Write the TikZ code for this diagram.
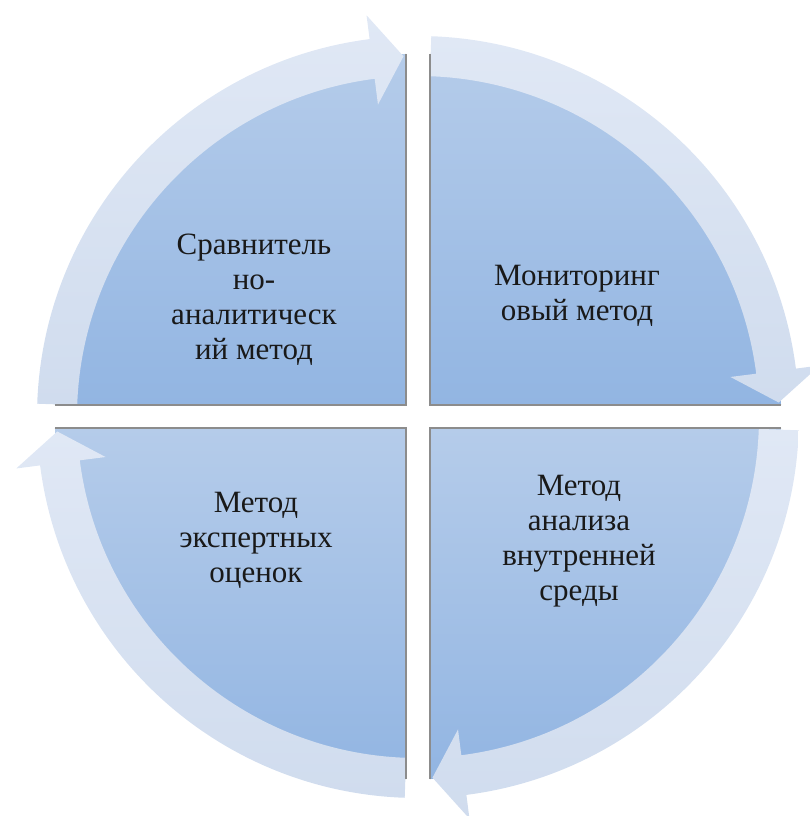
\documentclass[tikz,border=0pt]{standalone}
\usepackage{fontspec}
\setmainfont{Liberation Serif}
\definecolor{secTop}{RGB}{181,204,234}
\definecolor{secBot}{RGB}{146,181,226}
\definecolor{ringTop}{RGB}{224,232,245}
\definecolor{ringBot}{RGB}{208,220,238}
\definecolor{edgeGray}{RGB}{140,140,140}
\newcommand\ringarrow[1]{%
  \shade[top color=ringTop,bottom color=ringBot]
  ({88+#1}:381) arc[start angle={88+#1}, end angle={7.3+#1}, radius=381]
  -- ({7.3+#1}:405) -- ({2.3+#1}:361) -- ({7.3+#1}:315) -- ({7.3+#1}:341)
  arc[start angle={7.3+#1}, end angle={88+#1}, radius=341] -- cycle;}
\newcommand\quadsector[3]{%
  \shade[top color=secTop,bottom color=secBot]
  (#1,#2) -- ++({#3}:351) arc[start angle={#3}, end angle={#3+90}, radius=351] -- cycle;}
\tikzset{
  lbl/.style={font=\fontsize{31}{35}\selectfont, align=center, inner sep=0pt, text=black!90},
  edgeline/.style={draw=edgeGray, line width=1.3pt}
}
\begin{document}
\begin{tikzpicture}[x=1pt,y=1pt]
\useasboundingbox (-418,-399) rectangle (391,417);
% sectors
\quadsector{-12}{12}{90}
\quadsector{12}{12}{0}
\quadsector{12}{-11}{270}
\quadsector{-12}{-11}{180}
% ring arrows
\ringarrow{0}
\ringarrow{90}
\ringarrow{180}
\ringarrow{270}
% straight edges
\draw[edgeline] (-12,363) -- (-12,12) -- (-363,12);
\draw[edgeline] (12,363) -- (12,12) -- (363,12);
\draw[edgeline] (12,-362) -- (12,-11) -- (363,-11);
\draw[edgeline] (-12,-362) -- (-12,-11) -- (-363,-11);
% labels
\node[lbl] (tl) at (-164,117) {Сравнитель\\но-\\аналитическ\\ий метод};
\node[lbl] (tr) at (159,121) {Мониторинг\\овый метод};
\node[lbl] (bl) at (-162,-123) {Метод\\экспертных\\оценок};
\node[lbl] (br) at (161,-124) {Метод\\анализа\\внутренней\\среды};
\end{tikzpicture}
\end{document}
